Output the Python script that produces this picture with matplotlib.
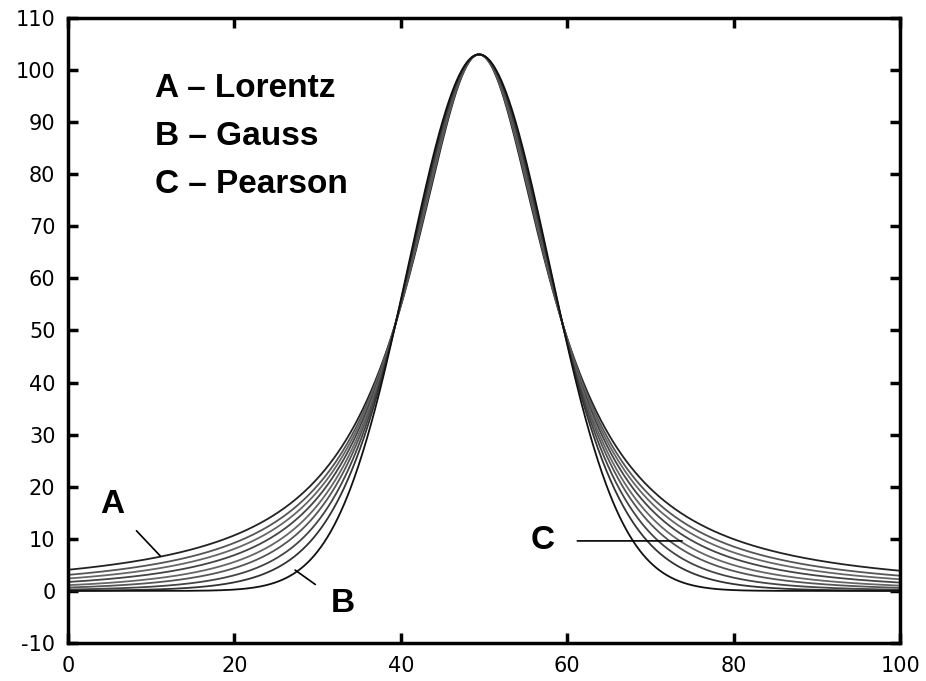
import numpy as np
import matplotlib.pyplot as plt

plt.rcParams['axes.unicode_minus'] = False

# Peak parameters
peak_center = 49.4
peak_height = 103.0
half_width = 10.0          # half width at half maximum

# Pearson VII shape exponents (1 = Lorentz, None = Gauss limit)
m_values = [1.0, 1.15, 1.3, 1.5, 1.8, 2.2, 3.0, 5.0, None]
line_colors = ['#222222', '#555555', '#666666', '#444444', '#666666',
               '#555555', '#444444', '#333333', '#111111']

x_ticks = [0, 20, 40, 60, 80, 100]
y_ticks = list(range(-10, 111, 10))

legend_lines = ["A \u2013 Lorentz", "B \u2013 Gauss", "C \u2013 Pearson"]


def pearson7(x, m):
    d = (x - peak_center) / half_width
    if m is None:
        return peak_height * np.exp(-np.log(2) * d ** 2)
    return peak_height / (1 + d ** 2 * (2 ** (1 / m) - 1)) ** m


x = np.linspace(0, 100, 1001)

fig = plt.figure(figsize=(9.26, 6.81), dpi=100)
ax = fig.add_axes([0.0734, 0.0558, 0.8986, 0.9178])

for m, c in zip(m_values, line_colors):
    ax.plot(x, pearson7(x, m), color=c, lw=1.3)

ax.set_xlim(0, 100)
ax.set_ylim(-10, 110)
ax.set_xticks(x_ticks)
ax.set_yticks(y_ticks)
ax.tick_params(direction='in', length=7, width=2.5, labelsize=15,
               top=True, right=True, pad=9)
for s in ax.spines.values():
    s.set_linewidth(2.5)

lab = dict(fontsize=24, fontweight='bold', family='Liberation Sans')

# legend text
for i, t in enumerate(legend_lines):
    ax.text(10.5, 96.5 - 9.2 * i, t, va='center', ha='left', **lab)

# pointer labels
ax.annotate("A", xy=(11.1, 6.7), xytext=(5.3, 16.5), ha='center', va='center',
            arrowprops=dict(arrowstyle='-', color='black', lw=1.2,
                            shrinkA=10, shrinkB=0), **lab)
ax.annotate("B", xy=(27.3, 4.0), xytext=(33.0, -2.5), ha='center', va='center',
            arrowprops=dict(arrowstyle='-', color='black', lw=1.2,
                            shrinkA=11, shrinkB=0), **lab)
ax.annotate("C", xy=(73.8, 9.6), xytext=(57.1, 9.6), ha='center', va='center',
            arrowprops=dict(arrowstyle='-', color='black', lw=1.2,
                            shrinkA=14, shrinkB=0), **lab)

fig.savefig("out.png", dpi=100)
